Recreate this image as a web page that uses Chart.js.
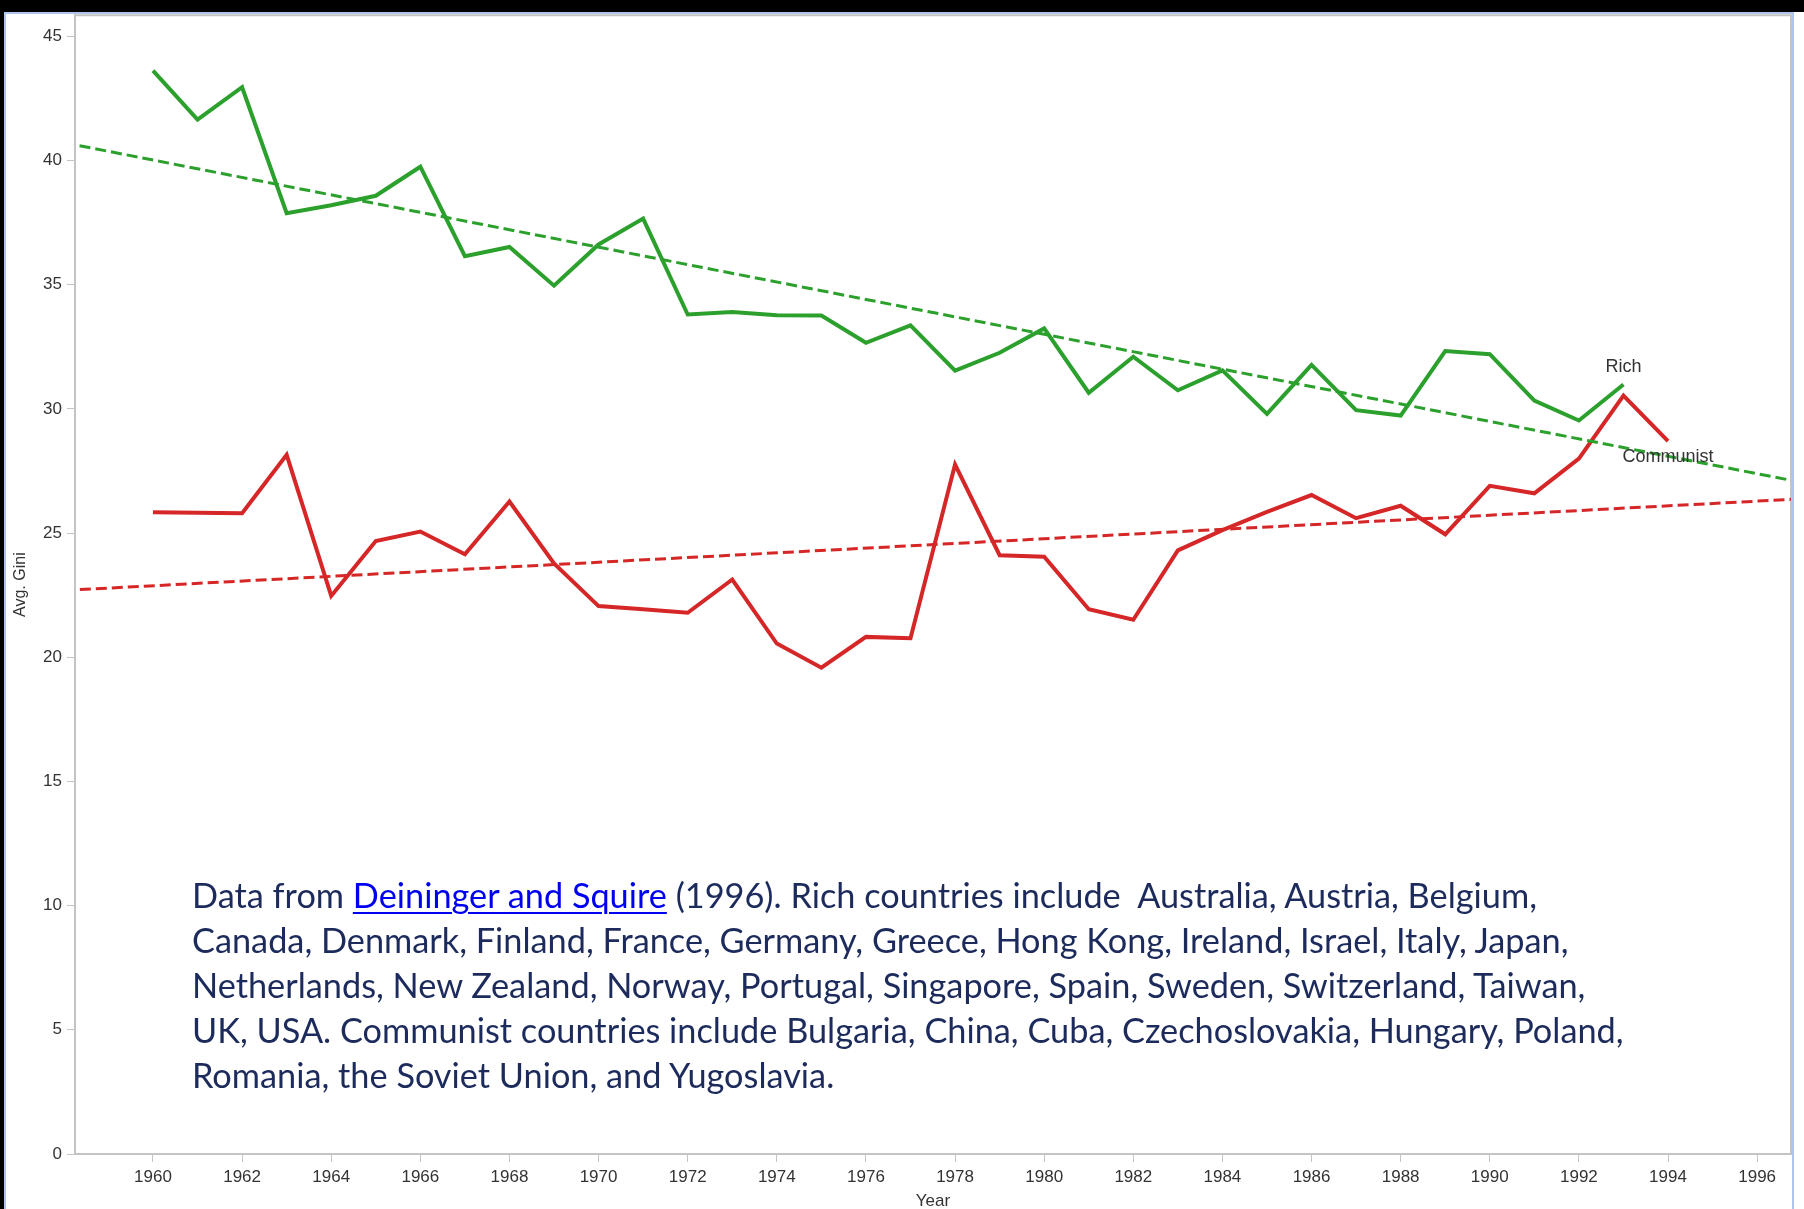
<!DOCTYPE html>
<html>
<head>
<meta charset="utf-8">
<title>Avg. Gini — Rich vs Communist countries</title>
<script src="https://cdn.jsdelivr.net/npm/chart.js@4.4.1/dist/chart.umd.min.js"></script>
<style>
  html, body { margin:0; padding:0; background:#fff; }
  body { width:1804px; height:1209px; position:relative; overflow:hidden; }
  #chart { position:absolute; left:0; top:0; }
  .band-top { position:absolute; left:0; top:0; width:1804px; height:12px; background:#000; }
  .band-left { position:absolute; left:0; top:0; width:4px; height:1209px; background:#000; }
  .frame { position:absolute; left:4px; top:12px; width:1790px; height:1220px; box-sizing:border-box;
           border:2px solid #aec6ee; border-bottom:none; pointer-events:none; }
  #note { position:absolute; left:192px; top:872px; font-family:Lato, "Open Sans", sans-serif; font-size:34px;
          line-height:45px; color:#1c2b5c; white-space:pre; }
  #note a { color:#0000f0; text-decoration:underline; text-decoration-thickness:2px; text-underline-offset:4px; }
  #note span { display:inline-block; }
</style>
</head>
<body>
<canvas id="chart" width="1804" height="1209"></canvas>
<div class="band-top"></div>
<div class="band-left"></div>
<div class="frame"></div>
<div id="note"><span>Data from <a href="#">Deininger and Squire</a> (1996). Rich countries include  Australia, Austria, Belgium,</span>
<span>Canada, Denmark, Finland, France, Germany, Greece, Hong Kong, Ireland, Israel, Italy, Japan,</span>
<span>Netherlands, New Zealand, Norway, Portugal, Singapore, Spain, Sweden, Switzerland, Taiwan,</span>
<span id="longLine">UK, USA. Communist countries include Bulgaria, China, Cuba, Czechoslovakia, Hungary, Poland,</span>
<span>Romania, the Soviet Union, and Yugoslavia.</span></div>
<script>
// values
const years = [1960, 1961, 1962, 1963, 1964, 1965, 1966, 1967, 1968, 1969,
               1970, 1971, 1972, 1973, 1974, 1975, 1976, 1977, 1978, 1979,
               1980, 1981, 1982, 1983, 1984, 1985, 1986, 1987, 1988, 1989,
               1990, 1991, 1992, 1993, 1994];

const richGini = [43.62, 41.65, 42.95, 37.88, 38.20, 38.58, 39.75, 36.15, 36.52, 34.96,
                  36.62, 37.66, 33.80, 33.90, 33.77, 33.76, 32.66, 33.36, 31.54, 32.26,
                  33.24, 30.65, 32.10, 30.75, 31.55, 29.80, 31.77, 29.95, 29.73, 32.33,
                  32.20, 30.33, 29.53, 30.98];

const communistGini = [25.84, 25.82, 25.80, 28.15, 22.47, 24.68, 25.06, 24.15, 26.27, 23.78,
                       22.06, 21.93, 21.79, 23.13, 20.55, 19.58, 20.82, 20.77, 27.76, 24.11,
                       24.05, 21.93, 21.51, 24.30, 25.12, 25.85, 26.53, 25.60, 26.10, 24.95,
                       26.90, 26.60, 28.00, 30.53, 28.70];

// trend lines, read at both ends of the axis
const trendYears = [1958, 1997];
const richTrend = [40.72, 27.04];
const communistTrend = [22.69, 26.38];

const xTicks = [1960, 1962, 1964, 1966, 1968, 1970, 1972, 1974, 1976, 1978,
                1980, 1982, 1984, 1986, 1988, 1990, 1992, 1994, 1996];
const yTicks = [0, 5, 10, 15, 20, 25, 30, 35, 40, 45];

const GREEN = '#2ca02c';
const RED = '#d62728';
const AXIS = '#c4c4c4';
const TXT = '#333333';
const FONT = '"Liberation Sans", Arial, sans-serif';

// fit the note text to the width it has in the picture
const note = document.getElementById('note');
const longLine = document.getElementById('longLine');
const w = longLine.getBoundingClientRect().width;
if (w > 0) note.style.fontSize = (34 * 1432 / w).toFixed(2) + 'px';

function pts(xs, ys){ return ys.map((v, i) => ({ x: xs[i], y: v })); }

const plotBorder = {
  id: 'plotBorder',
  beforeDatasetsDraw(chart){
    const { ctx, chartArea: a } = chart;
    ctx.save();
    ctx.strokeStyle = AXIS; ctx.lineWidth = 2;
    ctx.beginPath();
    ctx.moveTo(a.left, a.top); ctx.lineTo(a.right, a.top); ctx.lineTo(a.right, a.bottom);
    ctx.stroke();
    ctx.restore();
  }
};

const endLabels = {
  id: 'endLabels',
  afterDatasetsDraw(chart){
    const { ctx } = chart;
    const rich = chart.getDatasetMeta(2).data;
    const comm = chart.getDatasetMeta(3).data;
    const r = rich[rich.length - 1], c = comm[comm.length - 1];
    ctx.save();
    ctx.font = '18px ' + FONT; ctx.fillStyle = TXT;
    ctx.textAlign = 'center'; ctx.textBaseline = 'middle';
    ctx.fillText('Rich', r.x, r.y - 18);
    ctx.fillText('Communist', c.x, c.y + 16);
    ctx.restore();
  }
};

const ctx = document.getElementById('chart').getContext('2d');
const chart = new Chart(ctx, {
  type: 'line',
  data: {
    datasets: [
      { label: 'Rich trend', data: pts(trendYears, richTrend), borderColor: GREEN, borderWidth: 3, borderDash: [11, 5], pointRadius: 0, clip: 0 },
      { label: 'Communist trend', data: pts(trendYears, communistTrend), borderColor: RED, borderWidth: 3, borderDash: [11, 5], pointRadius: 0, clip: 0 },
      { label: 'Rich', data: pts(years, richGini), borderColor: GREEN, borderWidth: 4, pointRadius: 0, tension: 0 },
      { label: 'Communist', data: pts(years, communistGini), borderColor: RED, borderWidth: 4, pointRadius: 0, tension: 0 }
    ]
  },
  options: {
    responsive: false,
    animation: false,
    layout: { padding: { top: 15, right: 13, left: 0, bottom: 0 } },
    plugins: { legend: { display: false }, tooltip: { enabled: false } },
    scales: {
      x: {
        type: 'linear', min: 1958.25, max: 1996.76,
        afterBuildTicks: s => { s.ticks = xTicks.map(v => ({ value: v })); },
        afterFit: s => { s.height = 55; },
        grid: { drawOnChartArea: false, color: AXIS, tickLength: 8 },
        border: { color: AXIS, width: 2 },
        ticks: { color: TXT, font: { family: FONT, size: 17 }, padding: 5, maxRotation: 0, autoSkip: false, callback: v => String(v) },
        title: { display: true, text: 'Year', color: TXT, font: { family: FONT, size: 17 }, padding: { top: 0, bottom: -3 } }
      },
      y: {
        min: 0, max: 45.85,
        afterBuildTicks: s => { s.ticks = yTicks.map(v => ({ value: v })); },
        afterFit: s => { s.width = 75; },
        grid: { drawOnChartArea: false, color: AXIS, tickLength: 8 },
        border: { color: AXIS, width: 2 },
        ticks: { color: TXT, font: { family: FONT, size: 17 }, padding: 5, callback: v => String(v) },
        title: { display: true, text: 'Avg. Gini', color: TXT, font: { family: FONT, size: 16 }, padding: { top: 11, bottom: 0 } }
      }
    }
  },
  plugins: [plotBorder, endLabels]
});
</script>
</body>
</html>
